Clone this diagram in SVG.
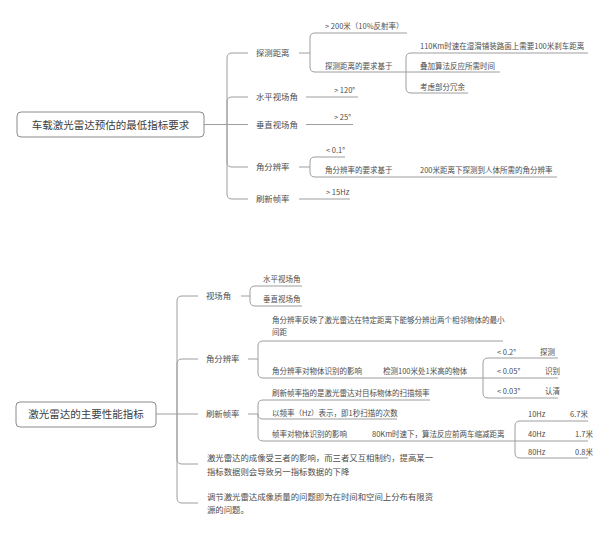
<svg xmlns="http://www.w3.org/2000/svg" width="611" height="537" viewBox="0 0 611 537">
<style>
.ln{fill:none;stroke:#9e9e9e;stroke-width:1}
.box{fill:#fff;stroke:#8a8a8a;stroke-width:1}
text{font-family:"Noto Sans CJK SC","Noto Sans",sans-serif;fill:#4d4d4d}
.r{font-size:10.5px;fill:#3c3c3c;text-anchor:middle}
.b{font-size:8.4px}
.s{font-size:7.5px}
</style>
<rect width="611" height="537" fill="#fff"/>
<g id="connectors">
<path class="ln" d="M227 124.5V58Q227 53 232 53H248M227 124.5V102Q227 97 232 97H248M204 124.5H248M227 124.5V162Q227 167 232 167H248M227 124.5V194Q227 199 232 199H248"/>
<path class="ln" d="M299 53H310M310 53V38Q310 33 315 33H407M310 53V67Q310 72 315 72H406"/>
<path class="ln" d="M406 72V58Q406 53 411 53H588M406 72H500M406 72V88Q406 93 411 93H468"/>
<path class="ln" d="M306 97H358M306 124.5H353"/>
<path class="ln" d="M299 167H310M310 167V162Q310 157 315 157H345M310 167V172Q310 177 315 177H557"/>
<path class="ln" d="M299 199H350"/>
<path class="ln" d="M177 414V301Q177 296 182 296H198M177 414V364Q177 359 182 359H198M156 414H198M177 414V459Q177 464 182 464H198M177 414V498Q177 503 182 503H198"/>
<path class="ln" d="M241 296H250M250 296V291Q250 286 255 286H302M250 296V301Q250 306 255 306H302"/>
<path class="ln" d="M248 359H258M258 359V346Q258 341 263 341H503M258 359V373Q258 378 263 378H483"/>
<path class="ln" d="M483 378V363Q483 358 488 358H558M483 378H558M483 378V393Q483 398 488 398H558"/>
<path class="ln" d="M248 414H258M258 414V405Q258 400 263 400H430M258 414Q258 419 263 419H397M258 414V436Q258 441 263 441H515"/>
<path class="ln" d="M515 441V426Q515 421 520 421H588M515 441H588M515 441V453Q515 458 520 458H588"/>
</g>
<g id="root1"><rect class="box" x="17" y="112" width="187" height="25" rx="4"/><text class="r" x="110.5" y="128.5">车载激光雷达预估的最低指标要求</text></g>
<g id="t-range"><text class="b" x="256" y="56">探测距离</text></g>
<g id="t-range-200"><text class="s" x="325" y="29">&gt; 200米（10%反射率）</text></g>
<g id="t-range-basis"><text class="s" x="325" y="69">探测距离的要求基于</text></g>
<g id="t-basis-1"><text class="s" x="420" y="49">110Km时速在湿滑铺装路面上需要100米刹车距离</text></g>
<g id="t-basis-2"><text class="s" x="420" y="69">叠加算法反应所需时间</text></g>
<g id="t-basis-3"><text class="s" x="420" y="90">考虑部分冗余</text></g>
<g id="t-hfov"><text class="b" x="256" y="100">水平视场角</text></g>
<g id="t-hfov-v"><text class="s" x="334" y="93">&gt; 120°</text></g>
<g id="t-vfov"><text class="b" x="256" y="127.5">垂直视场角</text></g>
<g id="t-vfov-v"><text class="s" x="334" y="120">&gt; 25°</text></g>
<g id="t-ang"><text class="b" x="256" y="170">角分辨率</text></g>
<g id="t-ang-v"><text class="s" x="326" y="153">&lt; 0.1°</text></g>
<g id="t-ang-basis"><text class="s" x="325" y="173">角分辨率的要求基于</text></g>
<g id="t-ang-basis-1"><text class="s" x="420" y="173">200米距离下探测到人体所需的角分辨率</text></g>
<g id="t-fps"><text class="b" x="256" y="202">刷新帧率</text></g>
<g id="t-fps-v"><text class="s" x="326" y="195">&gt; 15Hz</text></g>

<g id="root2"><rect class="box" x="16" y="402" width="140" height="25" rx="4"/><text class="r" x="86" y="418">激光雷达的主要性能指标</text></g>
<g id="b-fov"><text class="b" x="206" y="299">视场角</text></g>
<g id="b-fov-h"><text class="s" x="263" y="282">水平视场角</text></g>
<g id="b-fov-v"><text class="s" x="263" y="302">垂直视场角</text></g>
<g id="b-ang"><text class="b" x="206" y="362">角分辨率</text></g>
<g id="b-ang-def"><text class="s" x="272" y="323">角分辨率反映了激光雷达在特定距离下能够分辨出两个相邻物体的最小</text><text class="s" x="272" y="335">间距</text></g>
<g id="b-ang-eff"><text class="s" x="272" y="374">角分辨率对物体识别的影响</text></g>
<g id="b-ang-obj"><text class="s" x="383" y="374">检测100米处1米高的物体</text></g>
<g id="b-ang-02"><text class="s" x="497" y="355">&lt; 0.2°</text></g>
<g id="b-ang-02c"><text class="s" x="540" y="355">探测</text></g>
<g id="b-ang-005"><text class="s" x="497" y="374">&lt; 0.05°</text></g>
<g id="b-ang-005c"><text class="s" x="545" y="374">识别</text></g>
<g id="b-ang-003"><text class="s" x="497" y="394">&lt; 0.03°</text></g>
<g id="b-ang-003c"><text class="s" x="545" y="394">认清</text></g>
<g id="b-fps"><text class="b" x="206" y="417">刷新帧率</text></g>
<g id="b-fps-def"><text class="s" x="272" y="396">刷新帧率指的是激光雷达对目标物体的扫描频率</text></g>
<g id="b-fps-unit"><text class="s" x="272" y="416">以频率（Hz）表示，即1秒扫描的次数</text></g>
<g id="b-fps-eff"><text class="s" x="272" y="437">帧率对物体识别的影响</text></g>
<g id="b-fps-80"><text class="s" x="372" y="437">80Km时速下，算法反应前两车缩减距离</text></g>
<g id="b-10hz"><text class="s" x="528" y="417">10Hz</text><text class="s" x="570" y="417">6.7米</text></g>
<g id="b-40hz"><text class="s" x="528" y="437">40Hz</text><text class="s" x="575" y="437">1.7米</text></g>
<g id="b-80hz"><text class="s" x="528" y="455">80Hz</text><text class="s" x="575" y="455">0.8米</text></g>
<g id="b-note1"><text class="b" x="207" y="461">激光雷达的成像受三者的影响，而三者又互相制约，提高某一</text><text class="b" x="207" y="475">指标数据则会导致另一指标数据的下降</text></g>
<g id="b-note2"><text class="b" x="207" y="500">调节激光雷达成像质量的问题即为在时间和空间上分布有限资</text><text class="b" x="207" y="513">源的问题。</text></g>
</svg>
